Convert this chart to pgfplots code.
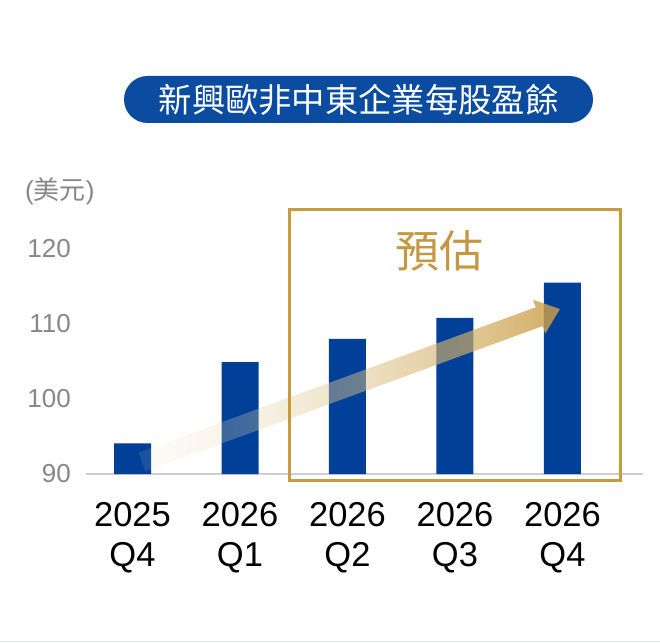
\documentclass[border=0pt]{standalone}
\usepackage{pgfplots}
\pgfplotsset{compat=1.18}
\usepackage{fontspec}
\setmainfont{Liberation Sans}
\newfontfamily\cjk{Noto Sans CJK TC}
\usetikzlibrary{fadings}

\definecolor{barblue}{RGB}{0,64,152}
\definecolor{titleblue}{RGB}{12,76,160}
\definecolor{gold}{RGB}{200,155,62}
\definecolor{goldtext}{RGB}{196,152,66}
\definecolor{cream}{RGB}{246,236,212}
\definecolor{tickgray}{RGB}{135,135,135}
\definecolor{basegray}{RGB}{205,205,213}
\definecolor{rulegray}{RGB}{226,232,232}

% arrow fades in from the left
\tikzfading[name=arrowfade, left color=transparent!94, right color=transparent!12]

\begin{document}
\begin{tikzpicture}[x=1pt,y=1pt]
\useasboundingbox (0,0) rectangle (660,642);
\fill[white] (0,0) rectangle (660,642);
\draw[rulegray, line width=1.5pt] (0,0.75) -- (660,0.75);

% title banner
\node[fill=titleblue, rounded corners=23.5pt, minimum width=469pt, minimum height=47pt,
      inner sep=0pt, text=white, font=\cjk\fontsize{33.3}{33}\selectfont]
  at (358.5,542.5) {新興歐非中東企業每股盈餘};

% unit label
\node[anchor=west, inner sep=0pt, text=tickgray, font=\fontsize{26}{26}\selectfont]
  at (25,451) {({\cjk 美元})};

\begin{axis}[
  at={(86pt,168pt)}, anchor=south west,
  scale only axis, width=557pt, height=264pt,
  xmin=-0.4326, xmax=4.749,
  ymin=90, ymax=125.2,
  clip mode=individual,
  axis line style={draw=none},
  major tick length=0pt,
  ytick={90,100,110,120},
  xtick={0,1,2,3,4},
  xticklabels={{2025\\Q4},{2026\\Q1},{2026\\Q2},{2026\\Q3},{2026\\Q4}},
  /pgf/number format/assume math mode=true,
  yticklabel style={font=\fontsize{26}{26}\selectfont, text=tickgray,
                    inner sep=0pt, anchor=east, xshift=-15pt},
  xticklabel style={font=\fontsize{34.5}{40}\selectfont, text=black, align=center,
                    inner sep=0pt, anchor=north, yshift=-28.7pt},
  ybar, bar width=37pt,
]
% baseline
\draw[basegray, line width=2pt] (axis cs:-0.4326,90) -- (axis cs:4.749,90);

\addplot[fill=barblue, draw=none] coordinates {
  (0,94.1) (1,104.9) (2,108.0) (3,110.8) (4,115.5)
};

% rising trend arrow
\shade[left color=cream, right color=gold, path fading=arrowfade]
  (axis cs:0.0567,92.853) -- (axis cs:3.7526,112.24) -- (axis cs:3.7265,113.24)
  -- (axis cs:3.9767,112.0) -- (axis cs:3.8419,108.733) -- (axis cs:3.8158,109.733)
  -- (axis cs:0.12,90.347) -- cycle;

% forecast frame
\draw[gold, line width=3pt] (axis cs:1.465,89.07) rectangle (axis cs:4.544,125.2);
\node[text=goldtext, font=\cjk\fontsize{44}{44}\selectfont] at (axis cs:2.86,119.73) {預估};
\end{axis}
\end{tikzpicture}
\end{document}
